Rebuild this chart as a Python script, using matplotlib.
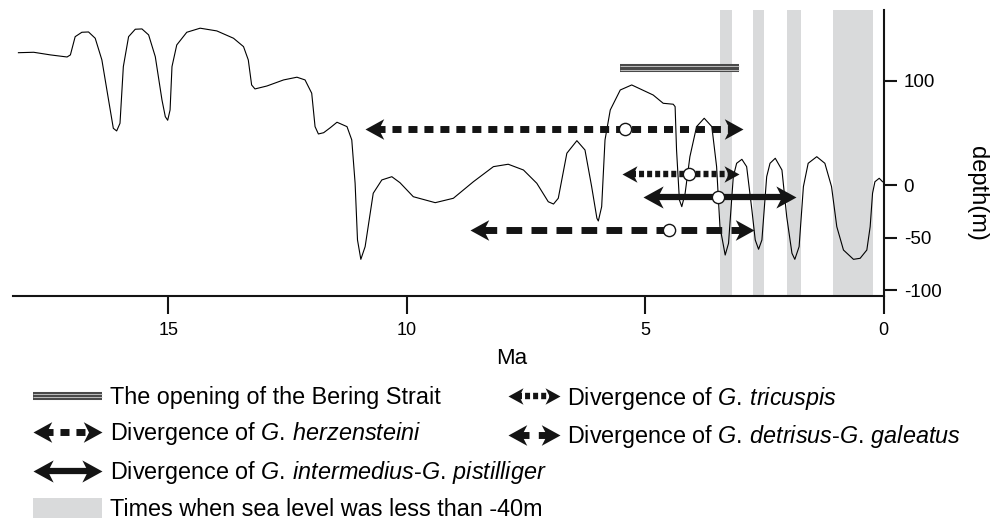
import matplotlib
matplotlib.use('Agg')
import matplotlib.pyplot as plt
import matplotlib.transforms as mtransforms
from matplotlib.path import Path
from matplotlib.lines import Line2D
from matplotlib.patches import Rectangle
from matplotlib.legend_handler import HandlerBase

plt.rcParams['font.family'] = ['Liberation Sans', 'DejaVu Sans']
plt.rcParams['mathtext.fontset'] = 'custom'
plt.rcParams['mathtext.it'] = 'Liberation Sans:italic'
plt.rcParams['mathtext.rm'] = 'Liberation Sans'
plt.rcParams['axes.unicode_minus'] = False
plt.rcParams['lines.scale_dashes'] = False

# sea level curve: age (Ma) and sea level (m)
age = [18.14, 17.82, 17.47, 17.12, 17.05, 16.95, 16.81, 16.67, 16.53, 16.39,
       16.25, 16.15, 16.08, 16.01, 15.94, 15.83, 15.69, 15.55, 15.41, 15.27,
       15.13, 15.06, 15.01, 14.96, 14.92, 14.82, 14.61, 14.33, 13.98, 13.63,
       13.42, 13.32, 13.25, 13.18, 12.93, 12.58, 12.30, 12.13, 11.99, 11.92,
       11.85, 11.74, 11.60, 11.46, 11.25, 11.15, 11.08, 11.03, 10.96, 10.87,
       10.70, 10.52, 10.31, 10.14, 9.86, 9.40, 9.02, 8.60, 8.18, 7.87,
       7.55, 7.27, 7.03, 6.92, 6.82, 6.64, 6.43, 6.26, 6.12, 6.01,
       5.98, 5.91, 5.84, 5.73, 5.52, 5.28, 4.83, 4.62, 4.41, 4.37,
       4.34, 4.28, 4.23, 4.16, 4.06, 3.92, 3.76, 3.60, 3.50, 3.43,
       3.32, 3.25, 3.15, 3.08, 2.97, 2.87, 2.76, 2.69, 2.62, 2.55,
       2.45, 2.38, 2.27, 2.13, 2.03, 1.92, 1.86, 1.77, 1.68, 1.58,
       1.40, 1.23, 1.09, 0.98, 0.84, 0.63, 0.49, 0.35, 0.28, 0.23,
       0.18, 0.09, 0.02]
level = [126.6, 127.0, 124.5, 122.5, 124.5, 141.9, 146.1, 146.4, 140.4, 119.7,
         81.5, 54.4, 51.9, 59.2, 113.3, 141.9, 149.0, 149.3, 143.6, 122.8,
         81.5, 65.5, 62.1, 71.9, 113.3, 134.0, 146.1, 150.0, 147.4, 140.4,
         132.4, 119.7, 95.8, 92.0, 94.8, 100.6, 103.2, 100.6, 87.9, 56.0,
         49.0, 50.2, 55.0, 60.2, 56.0, 43.3, 1.9, -52.2, -70.7, -58.6,
         -7.6, 5.1, 8.2, 2.5, -10.9, -16.6, -12.4, 3.4, 17.8, 20.1,
         14.6, 1.9, -15.7, -17.9, -12.4, 30.6, 42.6, 33.7, -1.3, -31.5,
         -34.1, -20.4, 43.3, 71.9, 91.0, 95.8, 86.2, 78.3, 77.4, 75.1,
         33.7, -14.0, -20.4, -7.6, 27.3, 56.0, 64.0, 56.0, 17.8, -39.5,
         -66.6, -55.4, 8.2, 21.0, 24.8, 17.8, -23.6, -52.2, -61.1, -52.2,
         8.2, 21.0, 25.8, 14.6, -30.0, -64.9, -70.7, -58.6, -1.3, 21.0,
         27.3, 21.0, -1.3, -39.5, -61.8, -70.7, -69.7, -61.8, -39.5, -7.6,
         3.4, 6.7, 3.4]

# times when sea level was below -40 m
low_start = [3.43, 2.74, 2.02, 1.06]
low_end = [3.18, 2.51, 1.73, 0.23]

# opening of the Bering Strait
bering_start = 5.52
bering_end = 3.02
bering_y = 112

# divergence estimates (older bound, younger bound, point estimate)
species = ['herzensteini', 'tricuspis', 'intermedius', 'detrisus']
div_from = [10.88, 5.49, 5.04, 8.67]
div_to = [2.94, 3.02, 1.83, 2.72]
div_mid = [5.42, 4.08, 3.48, 4.50]
div_y = [54, 11, -11, -43]

x_ticks = [15, 10, 5, 0]
y_ticks = [100, 0, -50, -100]

INK = '#141414'
GREY = '#d9dadb'
LEG_FS = 16.8
EM = LEG_FS * 100 / 72  # legend em in pixels

STYLE = {
    'herzensteini': dict(lw=5.0, ls=(0, (6.5, 5.0)), leg_ls=(0, (6.5, 5.0)), ms=27),
    'tricuspis': dict(lw=4.6, ls=(0, (3.6, 2.2)), leg_ls=(0, (3.6, 2.2)), ms=21.6),
    'intermedius': dict(lw=4.5, ls='-', leg_ls='-', ms=29),
    'detrisus': dict(lw=5.0, ls=(0, (11.3, 6.7)), leg_ls=(4.1, (11.3, 6.7)), ms=27),
}

# arrow heads with the tip at (0, 0)
head_verts = [(0, 0), (1, 0.55), (0.72, 0), (1, -0.55), (0, 0)]
head_codes = [Path.MOVETO, Path.LINETO, Path.LINETO, Path.LINETO, Path.CLOSEPOLY]
HEAD_L = Path(head_verts, head_codes)
HEAD_R = Path([(-x, y) for x, y in head_verts], head_codes)


class DivKey:
    def __init__(self, name):
        self.name = name


class BeringKey:
    pass


class DivHandler(HandlerBase):
    def create_artists(self, legend, orig_handle, xdescent, ydescent,
                       width, height, fontsize, trans):
        st = STYLE[orig_handle.name]
        y = height / 2 - ydescent
        x0 = -xdescent
        x1 = x0 + width
        inset = 0.6 * 0.5 * st['ms']
        line = Line2D([x0 + inset, x1 - inset], [y, y], color=INK, lw=st['lw'],
                      ls=st['leg_ls'], solid_capstyle='butt', transform=trans)
        hl = Line2D([x0], [y], marker=HEAD_L, ms=st['ms'], mew=0, color=INK,
                    ls='none', transform=trans)
        hr = Line2D([x1], [y], marker=HEAD_R, ms=st['ms'], mew=0, color=INK,
                    ls='none', transform=trans)
        return [line, hl, hr]


class BeringHandler(HandlerBase):
    def create_artists(self, legend, orig_handle, xdescent, ydescent,
                       width, height, fontsize, trans):
        y = height / 2 - ydescent
        x0 = -xdescent
        arts = []
        for dy, col, lw in [(0, '#4a4a4a', 5.8), (1.1, '#d0d0d0', 0.6), (-1.1, '#d0d0d0', 0.6)]:
            arts.append(Line2D([x0, x0 + width], [y + dy, y + dy], color=col, lw=lw,
                               solid_capstyle='butt', transform=trans))
        return arts


fig = plt.figure(figsize=(9.95, 5.19), dpi=100)
ax = fig.add_axes([0.01276, 0.4303, 0.8752, 0.5505])

ax.set_xlim(18.26, 0)
ax.set_ylim(-105.4, 167.4)

for s, e in zip(low_start, low_end):
    ax.axvspan(s, e, color=GREY, lw=0, zorder=0)

ax.plot(age, level, color='black', lw=0.8, zorder=2)

# Bering Strait bar (three thin lines)
for dy, col, lw in [(0, '#4a4a4a', 5.8), (1.1, '#d0d0d0', 0.6), (-1.1, '#d0d0d0', 0.6)]:
    tr = mtransforms.offset_copy(ax.transData, fig=fig, y=dy, units='points')
    ax.plot([bering_start, bering_end], [bering_y, bering_y], color=col, lw=lw,
            transform=tr, solid_capstyle='butt', zorder=3)

# divergence arrows
px_per_ma = abs(ax.transData.transform((1, 0))[0] - ax.transData.transform((0, 0))[0])
for i, name in enumerate(species):
    st = STYLE[name]
    head_px = 0.5 * st['ms'] * fig.dpi / 72
    inset = 0.6 * head_px / px_per_ma
    y = div_y[i]
    ax.plot([div_from[i] - inset, div_to[i] + inset], [y, y], color=INK, lw=st['lw'],
            ls=st['ls'], solid_capstyle='butt', zorder=4)
    ax.plot([div_from[i]], [y], marker=HEAD_L, ms=st['ms'], mew=0, color=INK, ls='none', zorder=4)
    ax.plot([div_to[i]], [y], marker=HEAD_R, ms=st['ms'], mew=0, color=INK, ls='none', zorder=4)
    ax.plot([div_mid[i]], [y], marker='o', ms=8.8, mfc='white', mec=INK, mew=1.0,
            ls='none', zorder=5)

# axes styling
for side in ['top', 'left']:
    ax.spines[side].set_visible(False)
for side in ['bottom', 'right']:
    ax.spines[side].set_linewidth(1.5)
    ax.spines[side].set_color(INK)
ax.yaxis.tick_right()
ax.set_xticks(x_ticks)
ax.set_xticklabels([str(v) for v in x_ticks])
ax.set_yticks(y_ticks)
ax.set_yticklabels([str(v) for v in y_ticks])
ax.tick_params(axis='x', length=13, width=1.5, pad=6, labelsize=13, color=INK)
ax.tick_params(axis='y', length=9.5, width=1.5, pad=5, labelsize=13.5, color=INK)

ax.set_xlabel('Ma', fontsize=16, va='center', ha='center')
ax.xaxis.set_label_coords(0.5734, -0.2216)
ax.yaxis.set_label_position('right')
ax.set_ylabel('depth(m)', fontsize=17, rotation=270, va='center', ha='center')
ax.yaxis.set_label_coords(1.107, 0.358)

# legend
handler_map = {DivKey: DivHandler(), BeringKey: BeringHandler()}
left_handles = [BeringKey(), DivKey('herzensteini'), DivKey('intermedius'),
                Rectangle((0, 0), 1, 1, fc=GREY, lw=0)]
left_labels = ['The opening of the Bering Strait',
               r'Divergence of $\mathit{G.\,herzensteini}$',
               r'Divergence of $\mathit{G.\,intermedius}$-$\mathit{G.\,pistilliger}$',
               'Times when sea level was less than -40m']
right_handles = [DivKey('tricuspis'), DivKey('detrisus')]
right_labels = [r'Divergence of $\mathit{G.\,tricuspis}$',
                r'Divergence of $\mathit{G.\,detrisus}$-$\mathit{G.\,galeatus}$']

common = dict(frameon=False, borderpad=0, borderaxespad=0, handleheight=0.95,
              labelspacing=0.5, fontsize=LEG_FS, handler_map=handler_map, loc='upper left')
fig.legend(left_handles, left_labels, bbox_to_anchor=(0.0332, 1 - 385.5 / 519),
           handlelength=69 / EM, handletextpad=8 / EM, **common)
fig.legend(right_handles, right_labels, bbox_to_anchor=(0.5106, 1 - 384.5 / 519),
           handlelength=52 / EM, handletextpad=7 / EM, **common)

fig.savefig('out.png', dpi=100)
